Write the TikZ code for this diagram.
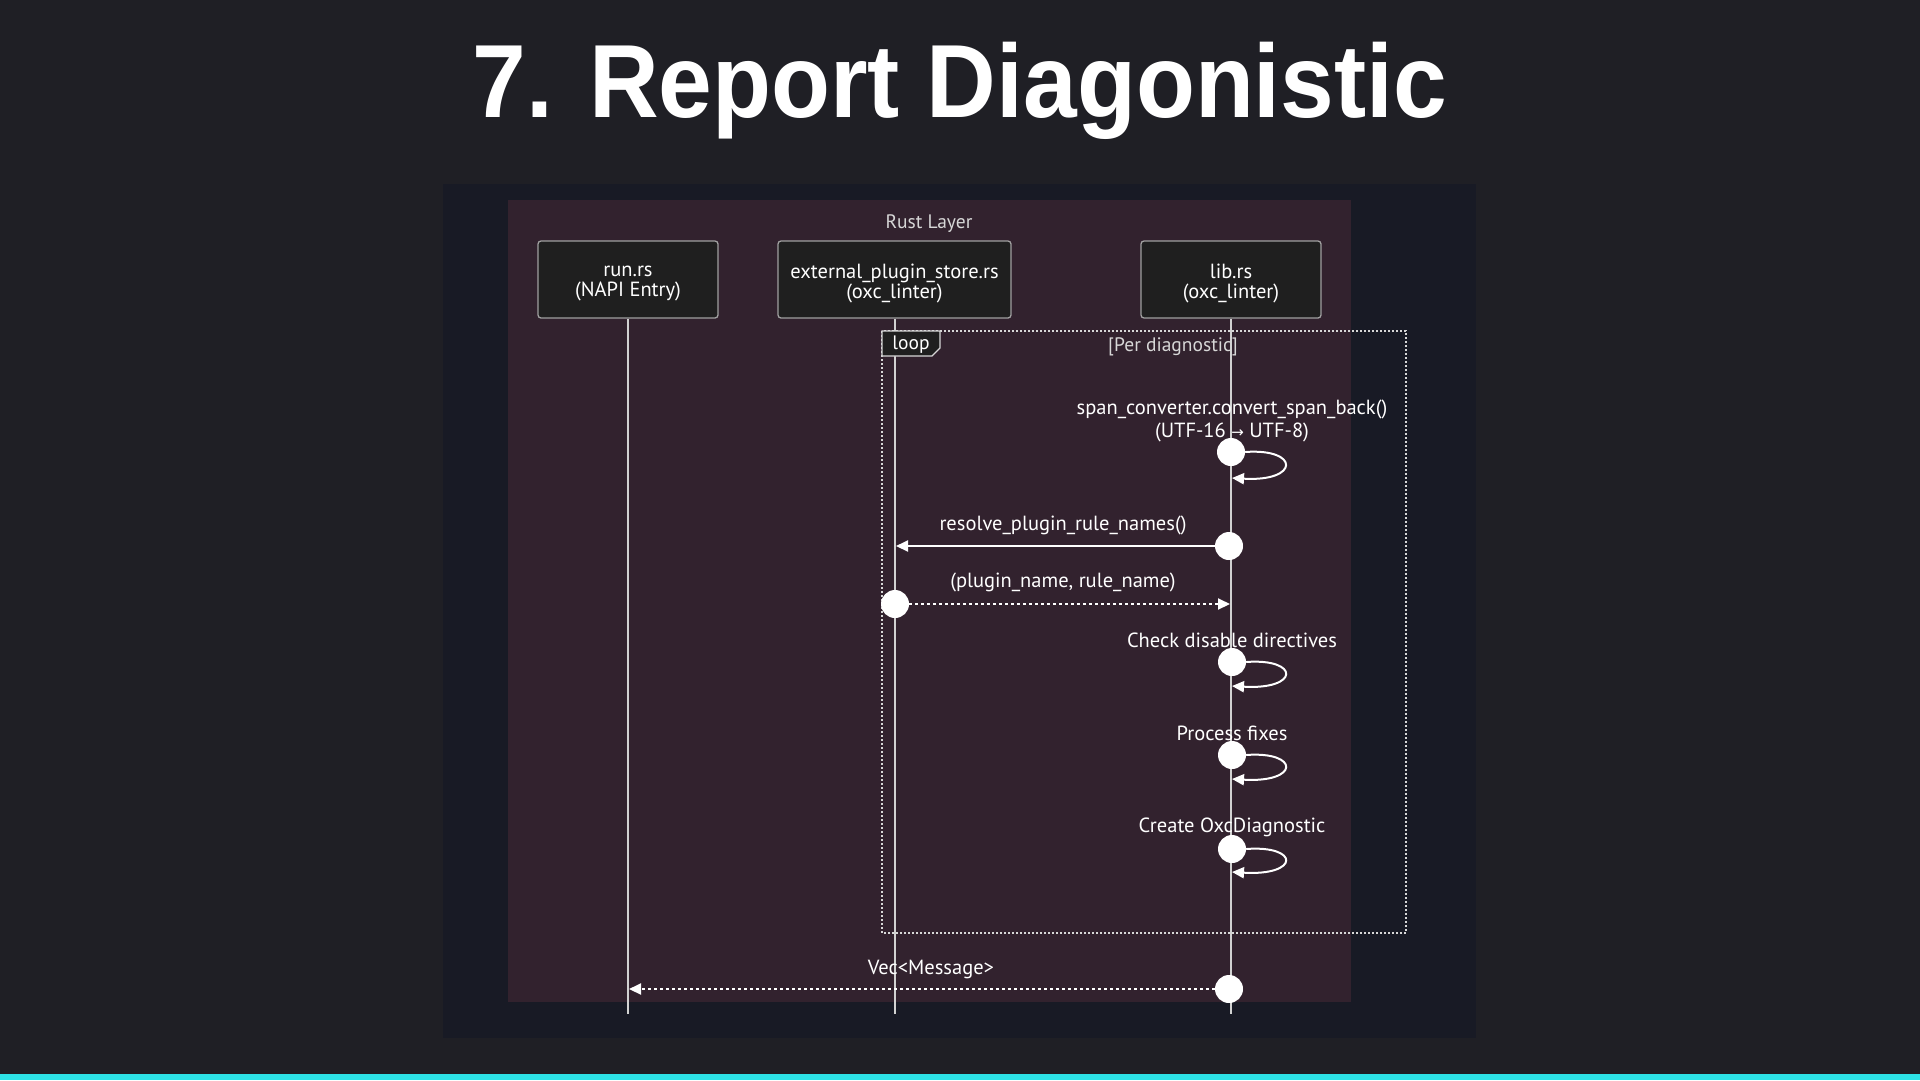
\documentclass[tikz,border=0pt]{standalone}
\usepackage{fontspec}
\setmainfont{PT Sans}
\newfontfamily\titlefont{Liberation Sans}
\newfontfamily\symfont{DejaVu Sans}
\usetikzlibrary{arrows.meta}
\definecolor{pagebg}{RGB}{31,31,37}
\definecolor{panelbg}{RGB}{24,26,37}
\definecolor{rustbg}{RGB}{50,34,46}
\definecolor{actorfill}{RGB}{31,31,31}
\definecolor{actorborder}{RGB}{160,160,160}
\definecolor{lifecol}{RGB}{210,210,210}
\definecolor{barcyan}{RGB}{45,226,230}
\definecolor{labelgray}{RGB}{215,215,215}
\tikzset{
  actorbox/.style={draw=actorborder, line width=1.3pt, fill=actorfill, rounded corners=3pt,
    minimum height=77pt, inner sep=0pt},
  actortext/.style={text=white, align=center, font=\fontsize{20.5}{20}\selectfont, inner sep=0pt},
  lifeline/.style={draw=lifecol, line width=2pt},
  msgtext/.style={text=white, font=\fontsize{20.5}{23}\selectfont, align=center, inner sep=0pt},
  dot/.style={circle, fill=white, minimum size=28pt, inner sep=0pt},
  msgline/.style={draw=white, line width=2pt, -{Triangle[length=12pt,width=11pt]}},
  retline/.style={msgline, dash pattern=on 3pt off 3pt},
  selfloop/.style={draw=white, line width=2pt, -{Triangle[length=12pt,width=11pt]}},
}
\begin{document}
\begin{tikzpicture}[x=1pt,y=-1pt]
\fill[pagebg] (0,0) rectangle (1920,1080);
\useasboundingbox (0,0) rectangle (1920,1080);
\fill[barcyan] (0,1074) rectangle (1920,1080);
% title
\node[anchor=base, text=white, font=\titlefont\bfseries\fontsize{104}{110}\selectfont, inner sep=0pt] (title) at (960,117) {\scalebox{0.928}[1]{7. Report Diagonistic}};
% panels
\fill[panelbg] (443,184) rectangle (1476,1038);
\fill[rustbg] (508,200) rectangle (1351,1002);
\node[text=labelgray, font=\fontsize{19.5}{20}\selectfont, inner sep=0pt] (rustlabel) at (929,224) {Rust Layer};
% actors
\node[actorbox, minimum width=180pt] (run) at (628,279.5) {};
\node[actorbox, minimum width=233pt] (ext) at (894.5,279.5) {};
\node[actorbox, minimum width=180pt] (lib) at (1231,279.5) {};
\node[actortext] (runtxt) at (run.center) [yshift=-4pt] {run.rs\\(NAPI Entry)};
\node[actortext] (exttxt) at (ext.center) [yshift=-4pt] {external\_plugin\_store.rs\\(oxc\_linter)};
\node[actortext] (libtxt) at (lib.center) [yshift=-4pt] {lib.rs\\(oxc\_linter)};
\coordinate (runend) at (628,1014);
\coordinate (extend) at (894.5,1014);
\coordinate (libend) at (1231,1014);
\draw[lifeline] (run.south) -- (runend);
\draw[lifeline] (ext.south) -- (extend);
\draw[lifeline] (lib.south) -- (libend);
% loop frame
\draw[draw=labelgray, line width=1.6pt, dash pattern=on 2pt off 2pt] (882,331) rectangle (1406,933);
\draw[draw=labelgray, line width=1.3pt, fill=actorfill] (882,331) -- (940,331) -- (940,348) -- (932,356) -- (882,356) -- cycle;
\node[text=white, font=\fontsize{19.5}{20}\selectfont, inner sep=0pt] (looplabel) at (911,345) {loop};
\node[text=labelgray, font=\fontsize{19.5}{20}\selectfont, inner sep=0pt] (cond) at (1173,347) {[Per diagnostic]};
% message 1 (self)
\node[msgtext] (t1) at (1232,421) {span\_converter.convert\_span\_back()\\(UTF-16 {\symfont\fontsize{15}{15}\selectfont →} UTF-8)};
\node[dot] (c1) at (1231,452) {};
\coordinate (e1) at (1232,478);
\draw[selfloop] (c1.east) .. controls (1300,448) and (1300,482) .. (e1);
% message 2
\node[msgtext] (t2) at (1063,525) {resolve\_plugin\_rule\_names()};
\node[dot] (c2) at (1229,546) {};
\coordinate (e2) at (896,546);
\draw[msgline] (c2) -- (e2);
% message 3
\node[msgtext] (t3) at (1063,582) {(plugin\_name, rule\_name)};
\node[dot] (c3) at (895,604) {};
\coordinate (e3) at (1230,604);
\draw[retline] (c3) -- (e3);
% message 4
\node[msgtext] (t4) at (1232,640) {Check disable directives};
\node[dot] (c4) at (1232,662) {};
\coordinate (e4) at (1232,686);
\draw[selfloop] (c4.east) .. controls (1300,658) and (1300,690) .. (e4);
% message 5
\node[msgtext] (t5) at (1232,733) {Process fixes};
\node[dot] (c5) at (1232,755) {};
\coordinate (e5) at (1232,779);
\draw[selfloop] (c5.east) .. controls (1300,751) and (1300,783) .. (e5);
% message 6
\node[msgtext] (t6) at (1232,827) {Create OxcDiagnostic};
\node[dot] (c6) at (1232,849) {};
\coordinate (e6) at (1232,872);
\draw[selfloop] (c6.east) .. controls (1300,845) and (1300,876) .. (e6);
% message 7
\node[msgtext] (t7) at (931,969) {Vec<Message>};
\node[dot] (c7) at (1229,989) {};
\coordinate (e7) at (629,989);
\draw[retline] (c7) -- (e7);
\end{tikzpicture}
\end{document}
